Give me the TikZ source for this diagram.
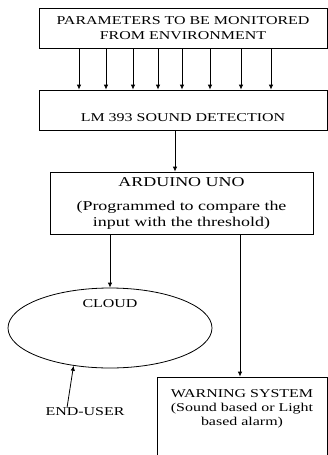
\documentclass[tikz,border=0pt]{standalone}
\usepackage{fontspec}
\setmainfont{Liberation Serif}[FakeStretch=1.33]
\usetikzlibrary{
	arrows.meta,
	positioning,
	shapes.geometric
}
\tikzset{
	modulo/.style={
		draw,
		line width=0.8pt,
		align=center,
		inner sep=0pt,
		font=\fontsize{12}{15}\selectfont
	},
	nube/.style={
		draw,
		ellipse,
		line width=0.8pt,
		inner sep=0pt,
		minimum width=204pt,
		minimum height=80pt,
		font=\fontsize{12}{14}\selectfont
	},
	etiqueta/.style={
		inner sep=0pt,
		font=\fontsize{12}{14}\selectfont
	},
	flecha/.style={
		-{Latex[length=5pt,width=4.5pt]},
		line width=0.8pt
	}
}

\begin{document}
\begin{tikzpicture}[x=1pt,y=-1pt]
	\useasboundingbox (0,0) rectangle (328,455);
	\node[modulo, minimum width=288pt, minimum height=40pt] (parametros) at (183,28) {PARAMETERS TO BE MONITORED\\FROM ENVIRONMENT};
	\node[modulo, minimum width=288pt, minimum height=40pt] (sensor) at (183,110) {\raisebox{-11pt}[0pt][0pt]{LM 393 SOUND DETECTION}};
	\node[modulo, minimum width=263pt, minimum height=62pt, font=\fontsize{13.5}{16}\selectfont] (arduino) at (181.5,203) {ARDUINO UNO\\[8pt](Programmed to compare the\\input with the threshold)};
	\node[nube] (nube) at (110,328) {\raisebox{21pt}[0pt][0pt]{CLOUD}};
	\node[modulo, minimum width=170pt, minimum height=85pt, font=\fontsize{12}{14}\selectfont] (alarma) at (242,419.5) {\raisebox{7.5pt}[0pt][0pt]{\begin{tabular}{@{}c@{}}WARNING SYSTEM\\(Sound based or Light\\based alarm)\end{tabular}}};
	\node[etiqueta] (usuario) at (85,412) {END-USER};
	% sensores
	\foreach \x in {79,106,133,158,182,210,241,271}
		\draw[flecha] (parametros.south -| \x,0) -- (sensor.north -| \x,0);
	\draw[flecha] (sensor.south -| 175,0) -- (arduino.north -| 175,0);
	\draw[flecha] (arduino.south -| nube.north) -- (nube.north);
	\draw[flecha] (arduino.south -| 240,0) -- (alarma.north -| 240,0);
	\draw[flecha] ([xshift=-18pt]usuario.north) -- (nube.226);
\end{tikzpicture}
\end{document}
